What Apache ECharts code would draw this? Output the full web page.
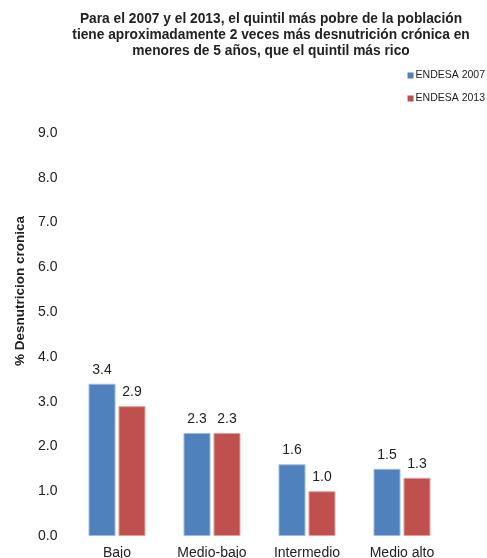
<!DOCTYPE html>
<html>
<head>
<meta charset="utf-8">
<script src="https://cdn.jsdelivr.net/npm/echarts@6/dist/echarts.min.js"></script>
<style>html,body{margin:0;padding:0;background:#fff;}#c{width:487px;height:558px;}</style>
</head>
<body>
<div id="c"></div>
<script>
const categories = ['Bajo', 'Medio-bajo', 'Intermedio', 'Medio alto'];
const endesa2007 = [3.4, 2.3, 1.6, 1.5];
const endesa2013 = [2.9, 2.3, 1.0, 1.3];
const seriesNames = ['ENDESA 2007', 'ENDESA 2013'];
const titleText = 'Para el 2007 y el 2013, el quintil más pobre de la población\ntiene aproximadamente 2 veces más desnutrición crónica en\nmenores de 5 años, que el quintil más rico';
const yTitle = '% Desnutricion cronica';

const chart = echarts.init(document.getElementById('c'), null, {renderer: 'canvas'});
const font = 'Liberation Sans, Arial, sans-serif';
const labelCfg = {
  show: true, position: 'top', distance: 7,
  color: '#222', fontSize: 14, fontFamily: font,
  formatter: p => p.value.toFixed(1)
};
chart.setOption({
  animation: false,
  backgroundColor: '#fff',
  title: {
    text: titleText,
    left: 266, top: 6, textAlign: 'center',
    textStyle: {fontSize: 13.75, fontWeight: 'bold', color: '#222', fontFamily: font, lineHeight: 16}
  },
  legend: {
    orient: 'vertical', right: -3, top: 65,
    itemWidth: 6, itemHeight: 6, itemGap: 12, icon: 'rect',
    itemStyle: {borderWidth: 0},
    textStyle: {fontSize: 10.5, color: '#222', fontFamily: font, padding: [0, 0, 0, -3]},
    data: seriesNames
  },
  graphic: [{
    type: 'text', x: 20, y: 291, rotation: Math.PI / 2,
    style: {text: yTitle, fontSize: 13.5, fontWeight: 'bold', fill: '#222', fontFamily: font,
      textAlign: 'center', textVerticalAlign: 'middle'}
  }],
  grid: {left: 69.5, right: 37.5, top: 133, bottom: 22, containLabel: false, outerBoundsMode: 'none'},
  xAxis: {
    type: 'category', data: categories,
    axisLine: {show: false}, axisTick: {show: false},
    axisLabel: {color: '#222', fontSize: 14, fontFamily: font, margin: 10}
  },
  yAxis: {
    type: 'value', min: 0, max: 9, interval: 1,
    splitLine: {show: false}, axisLine: {show: false}, axisTick: {show: false},
    axisLabel: {color: '#222', fontSize: 14, fontFamily: font, margin: 12, formatter: v => v.toFixed(1)}
  },
  series: [
    {name: seriesNames[0], type: 'bar', data: endesa2007, barWidth: 27, barGap: '11%',
      itemStyle: {color: '#4F81BD', borderColor: '#9DB9DE', borderWidth: 1}, label: labelCfg},
    {name: seriesNames[1], type: 'bar', data: endesa2013, barWidth: 27,
      itemStyle: {color: '#C0504D', borderColor: '#E0A09E', borderWidth: 1}, label: labelCfg}
  ]
});
</script>
</body>
</html>
